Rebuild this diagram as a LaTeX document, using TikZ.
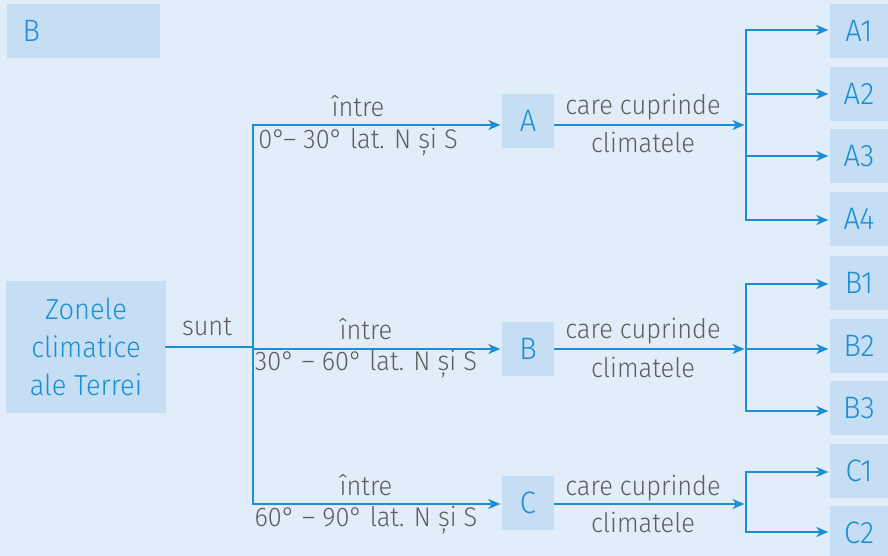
\documentclass[tikz,border=0pt]{standalone}
\usepackage{fontspec}
\setmainfont{Fira Sans Light}[FakeStretch=0.94]
\usetikzlibrary{arrows.meta}
\definecolor{bg}{HTML}{E1EDF8}
\definecolor{boxc}{HTML}{C6DEF3}
\definecolor{blu}{HTML}{1A8FD6}
\definecolor{gry}{HTML}{5E5E5E}
\begin{document}
\begin{tikzpicture}[x=1pt,y=-1pt,
  box/.style={fill=boxc, inner sep=0pt, text=blu, font=\fontsize{31}{36}\selectfont},
  sbox/.style={box, minimum width=58pt, minimum height=54pt},
  mbox/.style={box, minimum width=52pt, minimum height=54pt},
  lbl/.style={text=gry, font=\fontsize{27}{32}\selectfont, inner sep=0pt},
  con/.style={draw=blu, line width=1.8pt, line cap=rect},
  arr/.style={draw=blu, line width=1.8pt, shorten >=1.5pt, -{Stealth[length=12pt,width=10pt,inset=3.5pt]}}]
\fill[bg] (0,0) rectangle (888,556);
\useasboundingbox (0,0) rectangle (888,556);
% header
\node[box, text width=122pt, inner xsep=15.5pt, minimum height=54pt, align=left] (hdr) at (83.5,31) {B};
% main box
\node[box, minimum width=160pt, minimum height=132pt, align=center, font=\fontsize{29}{38}\selectfont] (Z) at (86,347) {Zonele\\climatice\\ale Terrei};
% middle boxes
\node[mbox] (A) at (528,121) {A};
\node[mbox] (B) at (528,349) {B};
\node[mbox] (C) at (528,503) {C};
% right boxes
\node[sbox] (A1) at (859,31) {A1};
\node[sbox] (A2) at (859,94) {A2};
\node[sbox] (A3) at (859,156) {A3};
\node[sbox] (A4) at (859,219) {A4};
\node[sbox] (B1) at (859,283) {B1};
\node[sbox] (B2) at (859,346) {B2};
\node[sbox] (B3) at (859,408) {B3};
\node[sbox] (C1) at (859,471) {C1};
\node[sbox] (C2) at (859,533) {C2};
% labels
\node[lbl] (l0) at (207,327) {sunt};
\node[lbl] (la1) at (358,106) {între};
\node[lbl] (la2) at (358,142) {0°– 30° lat. N și S};
\node[lbl] (lb1) at (366,329) {între};
\node[lbl] (lb2) at (366,364) {30° – 60° lat. N și S};
\node[lbl] (lc1) at (366,485) {între};
\node[lbl] (lc2) at (366,520) {60° – 90° lat. N și S};
\node[lbl] (ra1) at (643,107) {care cuprinde};
\node[lbl] (ra2) at (643,142) {climatele};
\node[lbl] (rb1) at (643,331) {care cuprinde};
\node[lbl] (rb2) at (643,367) {climatele};
\node[lbl] (rc1) at (643,488) {care cuprinde};
\node[lbl] (rc2) at (643,522) {climatele};
% left tree
\coordinate (jm) at (253,347);
\coordinate (ja) at (253,125);
\coordinate (jb) at (253,349);
\coordinate (jc) at (253,504);
\draw[con] (Z.east) -- (jm);
\draw[con] (ja) -- (jc);
\draw[arr] (ja) -- (ja -| A.west);
\draw[arr] (jb) -- (jb -| B.west);
\draw[arr] (jc) -- (jc -| C.west);
% A branch
\coordinate (ka) at (746,125);
\coordinate (ka1) at (746,30);
\coordinate (ka2) at (746,94);
\coordinate (ka3) at (746,156);
\coordinate (ka4) at (746,220);
\draw[arr] (A.east |- ka) -- (ka);
\draw[con] (ka1) -- (ka4);
\foreach \i in {1,2,3,4} \draw[arr] (ka\i) -- (ka\i -| A\i.west);
% B branch
\coordinate (kb) at (746,349);
\coordinate (kb1) at (746,284);
\coordinate (kb2) at (746,349);
\coordinate (kb3) at (746,411);
\draw[arr] (B.east |- kb) -- (kb);
\draw[con] (kb1) -- (kb3);
\foreach \i in {1,2,3} \draw[arr] (kb\i) -- (kb\i -| B\i.west);
% C branch
\coordinate (kc) at (746,504);
\coordinate (kc1) at (746,472);
\coordinate (kc2) at (746,532);
\draw[arr] (C.east |- kc) -- (kc);
\draw[con] (kc1) -- (kc2);
\foreach \i in {1,2} \draw[arr] (kc\i) -- (kc\i -| C\i.west);
\end{tikzpicture}
\end{document}
